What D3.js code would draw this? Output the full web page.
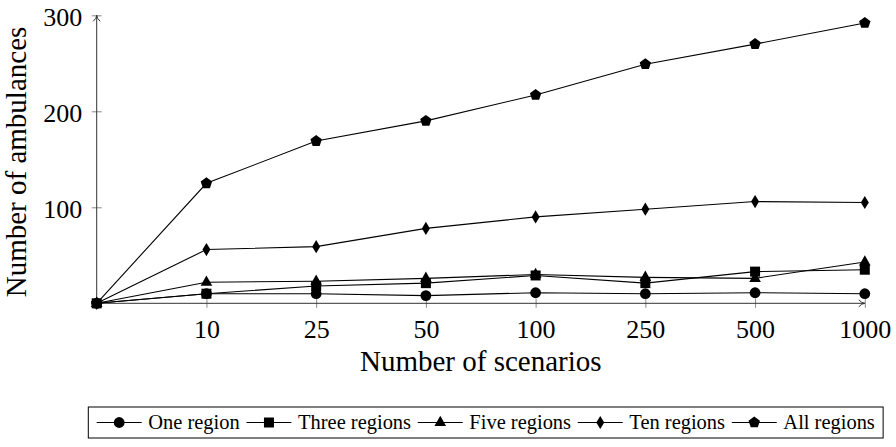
<!DOCTYPE html>
<html>
<head>
<meta charset="utf-8">
<script src="https://cdn.jsdelivr.net/npm/d3@7"></script>
<style>
  body { margin: 0; background: #fff; }
  text { font-family: "Liberation Serif", "DejaVu Serif", serif; fill: #000; }
</style>
</head>
<body>
<svg id="chart" width="896" height="447"></svg>
<script>
// Scenario counts along the x axis (first slot is the unlabeled origin)
const categories = ["0", "10", "25", "50", "100", "250", "500", "1000"];
const xTickLabels = ["10", "25", "50", "100", "250", "500", "1000"];
const yTickValues = [100, 200, 300];

// Number of ambulances per region setting
const oneRegion    = [0, 10, 10, 8, 11, 10, 11, 10];
const threeRegions = [0, 10, 18, 21, 29, 21, 33, 35];
const fiveRegions  = [0, 22, 23, 26, 30, 27, 26, 43];
const tenRegions   = [0, 56, 59, 78, 90, 98, 106, 105];
const allRegions   = [0, 125, 169, 190, 217, 249, 270, 292];

const seriesNames = ["One region", "Three regions", "Five regions", "Ten regions", "All regions"];
const seriesValues = [oneRegion, threeRegions, fiveRegions, tenRegions, allRegions];
const markerShapes = ["circle", "square", "triangle", "diamond", "pentagon"];

const svg = d3.select("#chart");

const x = d3.scalePoint().domain(categories).range([96.7, 864.8]);
const y = d3.scaleLinear().domain([0, 300]).range([303.3, 15.3]);

// marker path shapes, centred at 0,0
function markerPath(shape) {
  switch (shape) {
    case "circle":
      return d3.symbol(d3.symbolCircle, Math.PI * 5.4 * 5.4)();
    case "square":
      return "M-5,-5H5V5H-5Z";
    case "triangle":
      return "M0,-6.8L5.8,3.6L-5.8,3.6Z";
    case "diamond":
      return "M0,-6.6L4,0L0,6.6L-4,0Z";
    case "pentagon": {
      const r = 6;
      const pts = d3.range(5).map(i => {
        const a = -Math.PI / 2 + i * 2 * Math.PI / 5;
        return [r * Math.cos(a), r * Math.sin(a)];
      });
      return "M" + pts.map(p => p.join(",")).join("L") + "Z";
    }
  }
}

// ---- axes ----
const axisColor = "#333";
const tickColor = "#8a8a8a";

const xAxis = svg.append("g")
  .attr("transform", `translate(0,${y(0)})`)
  .call(d3.axisBottom(x).tickValues(xTickLabels).tickSize(0));
xAxis.select(".domain").remove();
xAxis.selectAll(".tick line")
  .attr("y1", -4.5).attr("y2", 4.5)
  .attr("stroke", tickColor).attr("stroke-width", 1);
xAxis.selectAll(".tick text")
  .attr("y", 34.7).attr("dy", 0)
  .style("font-size", "26px").style("font-family", "Liberation Serif");

const yAxis = svg.append("g")
  .attr("transform", `translate(${x("0")},0)`)
  .call(d3.axisLeft(y).tickValues(yTickValues).tickSize(0));
yAxis.select(".domain").remove();
yAxis.selectAll(".tick line")
  .attr("x1", -5).attr("x2", 5)
  .attr("stroke", tickColor).attr("stroke-width", 1);
yAxis.selectAll(".tick text")
  .attr("x", -14.5).attr("dy", "0.38em")
  .style("font-size", "26px").style("font-family", "Liberation Serif");

// axis lines with open arrow heads
const x0 = x("0"), y0 = y(0);
const xEnd = x("1000"), yEnd = y(300);
svg.append("line")
  .attr("x1", x0).attr("y1", y0).attr("x2", xEnd).attr("y2", y0)
  .attr("stroke", axisColor).attr("stroke-width", 1);
svg.append("line")
  .attr("x1", x0).attr("y1", y0).attr("x2", x0).attr("y2", yEnd)
  .attr("stroke", axisColor).attr("stroke-width", 1);
svg.append("path")
  .attr("d", `M${xEnd - 6},${y0 - 3.5}Q${xEnd - 3},${y0} ${xEnd},${y0}Q${xEnd - 3},${y0} ${xEnd - 6},${y0 + 3.5}`)
  .attr("fill", "none").attr("stroke", axisColor).attr("stroke-width", 1);
svg.append("path")
  .attr("d", `M${x0 - 3.5},${yEnd + 6}Q${x0},${yEnd + 3} ${x0},${yEnd}Q${x0},${yEnd + 3} ${x0 + 3.5},${yEnd + 6}`)
  .attr("fill", "none").attr("stroke", axisColor).attr("stroke-width", 1);

// axis titles
svg.append("text")
  .attr("x", (x0 + xEnd) / 2).attr("y", 371)
  .attr("text-anchor", "middle")
  .style("font-size", "29px")
  .text("Number of scenarios");
svg.append("text")
  .attr("transform", `translate(26,162) rotate(-90)`)
  .attr("text-anchor", "middle")
  .style("font-size", "29px")
  .text("Number of ambulances");

// ---- series lines ----
const line = d3.line()
  .x((d, i) => x(categories[i]))
  .y(d => y(d));

seriesValues.forEach(vals => {
  svg.append("path")
    .datum(vals)
    .attr("d", line)
    .attr("fill", "none")
    .attr("stroke", "#000")
    .attr("stroke-width", 1.1);
});

// markers; the square series is drawn last so it sits on top
const drawOrder = [0, 2, 3, 4, 1];
drawOrder.forEach(s => {
  svg.append("g").selectAll("path")
    .data(seriesValues[s])
    .join("path")
    .attr("transform", (d, i) => `translate(${x(categories[i])},${y(d)})`)
    .attr("d", markerPath(markerShapes[s]))
    .attr("fill", "#000");
});

// ---- legend ----
const legend = svg.append("g");
const legendLeft = 96.7, legendMid = 422.5;
const lineLen = 45, gapLineText = 6.6, gapTextLine = 6.7;
const targetTextTotal = 493.5;

// measure text widths at a base size, then size the font to fit the row
const probe = legend.append("g");
const baseSize = 20;
const widths = seriesNames.map(n => {
  const t = probe.append("text").style("font-size", baseSize + "px").text(n);
  return t.node().getComputedTextLength();
});
probe.remove();
const fontSize = baseSize * targetTextTotal / d3.sum(widths);

let cx = legendLeft;
seriesNames.forEach((name, s) => {
  legend.append("line")
    .attr("x1", cx).attr("x2", cx + lineLen)
    .attr("y1", legendMid).attr("y2", legendMid)
    .attr("stroke", "#000").attr("stroke-width", 1.1);
  legend.append("path")
    .attr("transform", `translate(${cx + lineLen / 2},${legendMid})`)
    .attr("d", markerPath(markerShapes[s]))
    .attr("fill", "#000");
  const t = legend.append("text")
    .attr("x", cx + lineLen + gapLineText)
    .attr("y", legendMid)
    .attr("dy", "0.33em")
    .style("font-size", fontSize + "px")
    .text(name);
  cx = cx + lineLen + gapLineText + t.node().getComputedTextLength() + gapTextLine;
});
const rowRight = cx - gapTextLine;
legend.insert("rect", ":first-child")
  .attr("x", 88.3).attr("y", 407)
  .attr("width", rowRight + 8.3 - 88.3)
  .attr("height", 31)
  .attr("fill", "#fff")
  .attr("stroke", "#000")
  .attr("stroke-width", 1);
</script>
</body>
</html>
